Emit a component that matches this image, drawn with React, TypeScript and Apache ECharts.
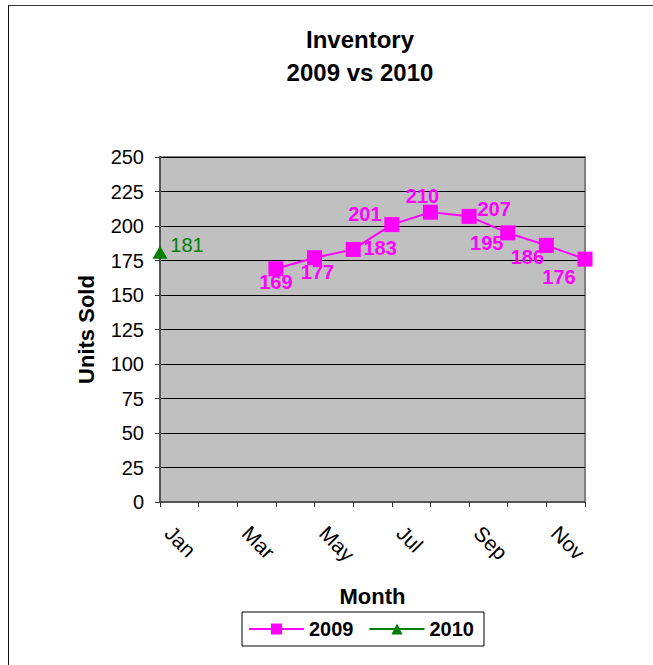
import React, { useEffect, useRef } from "react";
import * as echarts from "echarts";

const months = ["Jan", "Feb", "Mar", "Apr", "May", "Jun", "Jul", "Aug", "Sep", "Oct", "Nov", "Dec"];
const sales2009: (number | null)[] = [null, null, null, 169, 177, 183, 201, 210, 207, 195, 186, 176];
const sales2010: (number | null)[] = [181, null, null, null, null, null, null, null, null, null, null, null];
const yTicks = { min: 0, max: 250, interval: 25 };

// label offsets (px) relative to each point, in month order
const offsets2009: ([number, number] | null)[] = [
  null, null, null, [0, 13], [3, 14], [27, -1], [-27, -11], [-8, -16], [25, -7], [-21, 10], [-19, 12], [-26, 18],
];
const offsets2010: ([number, number] | null)[] = [[27, -7], null, null, null, null, null, null, null, null, null, null, null];

const FONT = "'Liberation Sans', Arial, sans-serif";

export default function App() {
  const ref = useRef<HTMLDivElement>(null);
  useEffect(() => {
    const chart = echarts.init(ref.current!, null, { renderer: "svg" });
    const mk = (vals: (number | null)[], offs: ([number, number] | null)[]) =>
      vals.map((v, i) =>
        v == null
          ? null
          : { value: v, label: { show: true, position: "inside", offset: offs[i] || [0, 0] } }
      );
    chart.setOption({
      animation: false,
      backgroundColor: "#ffffff",
      textStyle: { fontFamily: FONT },
      title: {
        text: "Inventory\n2009 vs 2010",
        left: 355,
        top: 18,
        textAlign: "center",
        textStyle: { fontFamily: FONT, fontSize: 24, fontWeight: "bold", color: "#000", lineHeight: 33 },
      },
      graphic: [
        { type: "line", shape: { x1: 8, y1: 5.5, x2: 653, y2: 5.5 }, style: { stroke: "#333", lineWidth: 1 } },
        { type: "line", shape: { x1: 8.5, y1: 5, x2: 8.5, y2: 665 }, style: { stroke: "#111", lineWidth: 1 } },
      ],
      legend: {
        left: 242,
        top: 612,
        data: ["2009", "2010"],
        borderColor: "#000",
        borderWidth: 1,
        padding: [7, 10, 7, 6],
        itemWidth: 55,
        itemHeight: 14,
        itemGap: 15,
        textStyle: { fontFamily: FONT, fontSize: 20, fontWeight: "bold", color: "#000" },
      },
      grid: {
        left: 160,
        right: 68,
        top: 157,
        bottom: 163,
        show: true,
        backgroundColor: "#C0C0C0",
        borderColor: "#808080",
        borderWidth: 2,
      },
      xAxis: {
        type: "category",
        data: months,
        boundaryGap: false,
        name: "Month",
        nameLocation: "middle",
        nameGap: 83,
        nameTextStyle: { fontFamily: FONT, fontSize: 22, fontWeight: "bold", color: "#000" },
        axisLine: { lineStyle: { color: "#555", width: 2 } },
        axisTick: { show: true, interval: 0, length: 5, lineStyle: { color: "#333", width: 1 } },
        axisLabel: {
          interval: 1,
          rotate: -45,
          margin: 19,
          padding: [0, 0, 0, 12],
          fontFamily: FONT,
          fontSize: 21,
          color: "#000",
        },
        splitLine: { show: false },
      },
      yAxis: {
        type: "value",
        min: yTicks.min,
        max: yTicks.max,
        interval: yTicks.interval,
        name: "Units Sold",
        nameLocation: "middle",
        nameGap: 63,
        nameTextStyle: { fontFamily: FONT, fontSize: 22, fontWeight: "bold", color: "#000" },
        axisLine: { show: true, lineStyle: { color: "#555", width: 2 } },
        axisTick: { show: true, length: 5, lineStyle: { color: "#333", width: 1 } },
        axisLabel: { margin: 16, fontFamily: FONT, fontSize: 20, color: "#000" },
        splitLine: { show: true, lineStyle: { color: "#000", width: 1 } },
      },
      series: [
        {
          name: "2009",
          type: "line",
          data: mk(sales2009, offsets2009),
          connectNulls: false,
          symbol: "rect",
          symbolSize: 15,
          color: "#FF00FF",
          lineStyle: { color: "#FF00FF", width: 2 },
          itemStyle: { color: "#FF00FF" },
          label: { fontFamily: FONT, fontSize: 20, fontWeight: "bold", color: "#FF00FF" },
          z: 3,
        },
        {
          name: "2010",
          type: "line",
          data: mk(sales2010, offsets2010),
          symbol: "triangle",
          symbolSize: [15, 13],
          color: "#008000",
          lineStyle: { color: "#008000", width: 2 },
          itemStyle: { color: "#008000" },
          label: { fontFamily: FONT, fontSize: 20, fontWeight: "normal", color: "#008000" },
          z: 3,
        },
      ],
    });
    return () => chart.dispose();
  }, []);
  return (
    <div
      ref={ref}
      style={{ position: "absolute", left: 0, top: 0, width: 653, height: 665 }}
    />
  );
}
